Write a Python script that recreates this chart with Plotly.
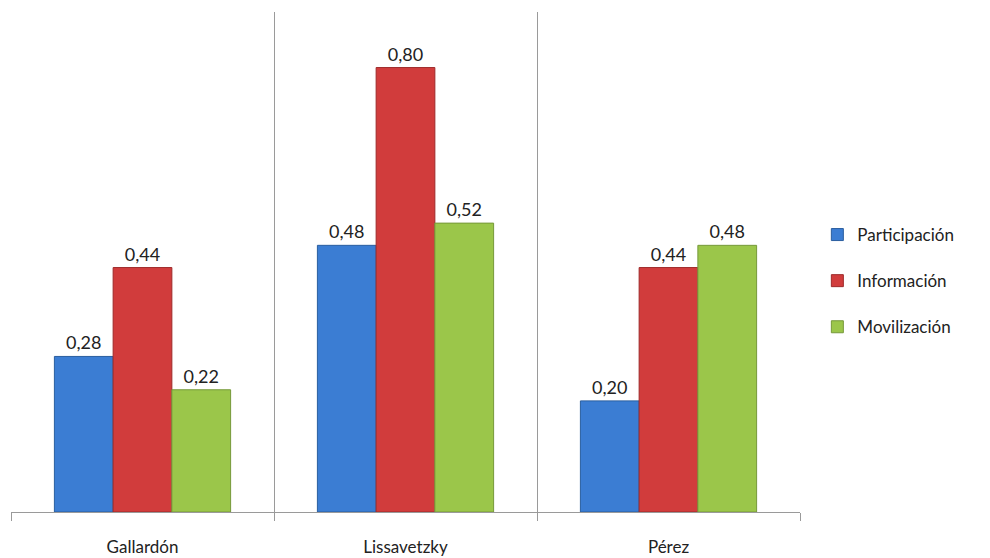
import plotly.graph_objects as go

categories = ["Gallardón", "Lissavetzky", "Pérez"]
series_names = ["Participación", "Información", "Movilización"]
participacion = [0.28, 0.48, 0.20]
informacion = [0.44, 0.80, 0.44]
movilizacion = [0.22, 0.52, 0.48]

colors = ["#3B7DD3", "#D13C3C", "#9BC64A"]
edge = ["#2A5E9F", "#9E2A2A", "#76993A"]

fig = go.Figure()
for name, vals, c, e in zip(series_names, [participacion, informacion, movilizacion], colors, edge):
    fig.add_trace(go.Bar(
        x=categories, y=vals, name=name, legendgroup=name,
        marker=dict(color=c, line=dict(color=e, width=1)),
        texttemplate="%{y:.2f}", textposition="outside",
        textfont=dict(size=18, color="#222222", family="Lato"),
        cliponaxis=False,
    ))

fig.update_layout(
    width=990, height=558,
    margin=dict(l=11, r=190, t=12, b=46, autoexpand=False),
    paper_bgcolor="white", plot_bgcolor="white",
    barmode="group", bargap=0.33, bargroupgap=0,
    separators=",.",
    font=dict(family="Lato", size=16, color="#222222"),
    legend=dict(x=1.022, y=0.462, xanchor="left", yanchor="middle",
                font=dict(size=17, family="Lato"), tracegroupgap=21,
                itemwidth=30),
    xaxis=dict(tickson="boundaries", showgrid=True, gridcolor="#9a9a9a", gridwidth=1,
               showline=True, linecolor="#9a9a9a", ticks="outside", ticklen=8,
               tickcolor="#9a9a9a", range=[-0.5, 2.5], tickfont=dict(size=17),
               ticklabelstandoff=20, automargin=False),
    yaxis=dict(range=[0, 0.9], showgrid=False, showticklabels=False, zeroline=False,
               showline=False, automargin=False),
)
fig.write_html("out.html")
